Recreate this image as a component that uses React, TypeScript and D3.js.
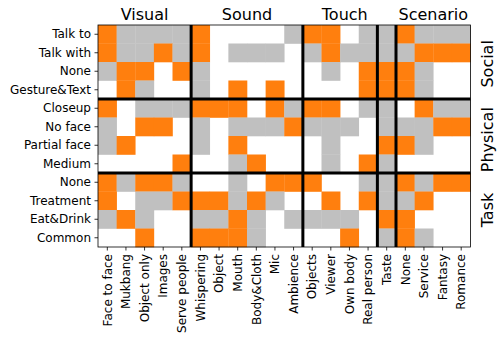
import React, { useEffect, useRef } from 'react';
import * as d3 from 'd3';

// columns (bottom) and rows (left)
const columns = [
  'Face to face', 'Mukbang', 'Object only', 'Images', 'Serve people',
  'Whispering', 'Object', 'Mouth', 'Body&Cloth', 'Mic', 'Ambience',
  'Objects', 'Viewer', 'Own body', 'Real person',
  'Taste',
  'None', 'Service', 'Fantasy', 'Romance',
];
const rows = [
  'Talk to', 'Talk with', 'None', 'Gesture&Text',
  'Closeup', 'No face', 'Partial face', 'Medium',
  'None', 'Treatment', 'Eat&Drink', 'Common',
];

// o = orange, g = gray, w = empty
const cells = [
  'oggggowwwwgoowggoggg',
  'oggogowgggwgoggggooo',
  'goowogwwwwwwgwooogww',
  'wogwwgwowowwwwooogww',
  'owgggooowogoowggwogg',
  'gwoowgwgggogggwgggoo',
  'gowwwgwowwwwgwwoogww',
  'wwwwowwgowwwgwogwwww',
  'ogoogwwgwooowwggogoo',
  'owggooogogwwowoggoww',
  'gogwwggogwggggwoowww',
  'wwowwooogwwwwowgogww',
];

// group dividers (index where a new group starts)
const colBreaks = [5, 11, 15, 16];
const rowBreaks = [4, 8];

const topGroups = ['Visual', 'Sound', 'Touch', 'Scenario'];
const topGroupPos = [2.5, 8, 13.25, 18]; // in column units
const sideGroups = ['Social', 'Physical', 'Task'];
const sideGroupPos = [2.1, 6.2, 10]; // in row units

const colors = { o: '#ff7f0e', g: '#c0c0c0', w: '#ffffff' };

const App = () => {
  const ref = useRef(null);

  useEffect(() => {
    const W = 501, H = 341;
    const margin = { top: 25, right: 30.5, bottom: 94, left: 98 };
    const w = W - margin.left - margin.right;
    const h = H - margin.top - margin.bottom;

    d3.select(ref.current).selectAll('*').remove();

    const svg = d3.select(ref.current)
      .append('svg')
      .attr('width', W)
      .attr('height', H)
      .style('position', 'absolute')
      .style('left', 0)
      .style('top', 0)
      .style('font-family', 'DejaVu Sans, sans-serif');

    const g = svg.append('g').attr('transform', `translate(${margin.left},${margin.top})`);

    const x = d3.scaleBand().domain(d3.range(columns.length)).range([0, w]).padding(0);
    const y = d3.scaleBand().domain(d3.range(rows.length)).range([0, h]).padding(0);

    // cells
    cells.forEach((row, ri) => {
      row.split('').forEach((c, ci) => {
        if (c === 'w') return;
        g.append('rect')
          .attr('x', x(ci))
          .attr('y', y(ri))
          .attr('width', x.bandwidth() + 0.3)
          .attr('height', y.bandwidth() + 0.3)
          .attr('fill', colors[c]);
      });
    });

    // thick dividers
    colBreaks.forEach(b => {
      g.append('line')
        .attr('x1', x(b)).attr('x2', x(b))
        .attr('y1', 0).attr('y2', h)
        .attr('stroke', '#000').attr('stroke-width', 3);
    });
    rowBreaks.forEach(b => {
      g.append('line')
        .attr('x1', 0).attr('x2', w)
        .attr('y1', y(b)).attr('y2', y(b))
        .attr('stroke', '#000').attr('stroke-width', 3);
    });

    // frame
    g.append('rect')
      .attr('width', w).attr('height', h)
      .attr('fill', 'none').attr('stroke', '#000').attr('stroke-width', 0.8);

    // axes
    const xAxis = d3.axisBottom(x).tickFormat(i => columns[i]).tickSize(3.5).tickPadding(3.5);
    const yAxis = d3.axisLeft(y).tickFormat(i => rows[i]).tickSize(3.5).tickPadding(3.5);

    const $x = g.append('g').attr('transform', `translate(0,${h})`).call(xAxis);
    $x.select('.domain').remove();
    $x.selectAll('line').attr('stroke', '#000').attr('stroke-width', 0.8);
    $x.selectAll('text')
      .attr('font-size', 12)
      .attr('font-family', 'DejaVu Sans, sans-serif')
      .attr('fill', '#000')
      .attr('text-anchor', 'end')
      .attr('transform', 'rotate(-90)')
      .attr('x', -7)
      .attr('y', 0)
      .attr('dy', '0.35em');

    const $y = g.append('g').call(yAxis);
    $y.select('.domain').remove();
    $y.selectAll('line').attr('stroke', '#000').attr('stroke-width', 0.8);
    $y.selectAll('text')
      .attr('font-size', 12)
      .attr('font-family', 'DejaVu Sans, sans-serif')
      .attr('fill', '#000');

    // group labels on top
    topGroups.forEach((t, i) => {
      g.append('text')
        .attr('x', topGroupPos[i] * x.bandwidth())
        .attr('y', -5)
        .attr('text-anchor', 'middle')
        .attr('font-size', 16)
        .attr('fill', '#000')
        .text(t);
    });

    // group labels on the right
    sideGroups.forEach((t, i) => {
      const cy = sideGroupPos[i] * y.bandwidth();
      g.append('text')
        .attr('transform', `translate(${w + 22},${cy}) rotate(-90)`)
        .attr('text-anchor', 'middle')
        .attr('font-size', 16)
        .attr('fill', '#000')
        .text(t);
    });
  }, []);

  return <div ref={ref}></div>;
};

export default App;
